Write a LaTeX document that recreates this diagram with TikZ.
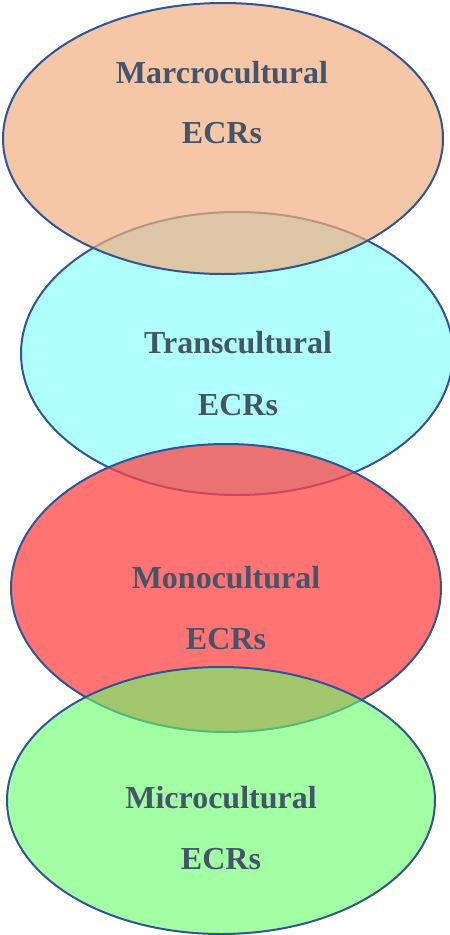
\documentclass[tikz,border=0pt]{standalone}
\usepackage{fontspec}
\setmainfont{Liberation Serif}
\usetikzlibrary{shapes.geometric}
\definecolor{ecrline}{RGB}{47,85,151}
\definecolor{ecrtext}{RGB}{68,84,106}
\definecolor{macrofill}{RGB}{241,175,128}
\definecolor{transfill}{RGB}{175,255,255}
\definecolor{monofill}{RGB}{255,68,68}
\definecolor{microfill}{RGB}{102,255,102}
\tikzset{
	ring/.style={ellipse,draw=ecrline,line width=2pt,inner sep=0pt},
	lbl/.style={text=ecrtext,font=\fontsize{32}{38}\selectfont\bfseries,anchor=base}
}
\begin{document}
\begin{tikzpicture}[x=1pt,y=-1pt]
	\useasboundingbox (0,0) rectangle (450,935);
	\node[ring,fill=transfill,minimum width=432pt,minimum height=283pt] (trans) at (237,353.5) {};
	\node[ring,fill=macrofill,fill opacity=0.7,minimum width=440pt,minimum height=271pt] (macro) at (223,138.5) {};
	\node[ring,fill=monofill,fill opacity=0.75,minimum width=430pt,minimum height=288pt] (mono) at (226,588) {};
	\node[ring,fill=microfill,fill opacity=0.6,minimum width=428pt,minimum height=267pt] (micro) at (221,800.5) {};
	\node[lbl] (macroA) at (222,83) {Marcrocultural};
	\node[lbl] (macroB) at (222,143) {ECRs};
	\node[lbl] (transA) at (238,353) {Transcultural};
	\node[lbl] (transB) at (238,415) {ECRs};
	\node[lbl] (monoA) at (226,588) {Monocultural};
	\node[lbl] (monoB) at (226,649) {ECRs};
	\node[lbl] (microA) at (221,808) {Microcultural};
	\node[lbl] (microB) at (221,869) {ECRs};
\end{tikzpicture}
\end{document}
